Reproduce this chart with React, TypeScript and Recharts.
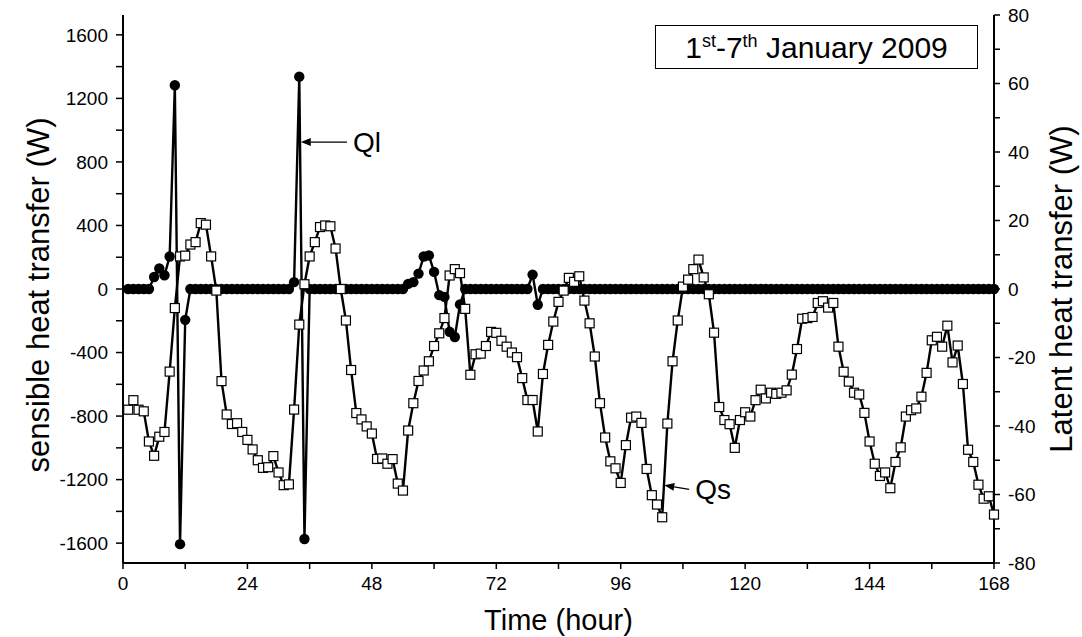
import { LineChart, Line, XAxis, YAxis, ReferenceLine } from 'recharts';

// hourly values, hour 1 .. 168
const sensibleQs = [
  -760, -700, -760, -770, -960, -1050, -930, -900, -520, -120, 205, 210,
  280, 295, 415, 405, 205, -10, -580, -790, -850, -845, -900, -950,
  -1010, -1078, -1126, -1122, -1052, -1155, -1235, -1230, -759, -224, 30, 205,
  295, 390, 400, 395, 255, 0, -198, -510, -781, -821, -865, -910,
  -1070, -1067, -1100, -1071, -1225, -1269, -891, -719, -579, -513, -455, -359,
  -279, -183, 85, 125, 100, -125, -540, -411, -407, -359, -270, -276,
  -326, -363, -400, -429, -561, -699, -699, -897, -535, -352, -205, -81,
  -10, 70, 45, 80, -73, -216, -425, -719, -935, -1085, -1129, -1221,
  -983, -810, -803, -843, -1133, -1298, -1357, -1437, -847, -455, -198, 15,
  59, 125, 185, 73, -33, -275, -743, -825, -851, -1000, -825, -776,
  -803, -700, -634, -689, -653, -660, -653, -638, -539, -378, -187, -183,
  -176, -88, -77, -117, -88, -363, -521, -583, -653, -664, -780, -960,
  -1100, -1177, -1155, -1254, -1089, -997, -803, -763, -752, -678, -528, -323,
  -301, -363, -231, -462, -356, -598, -1012, -1089, -1232, -1320, -1305, -1420,
];

const latentQl = [
  0, 0, 0, 0, 0, 3.5, 6, 4, 9.5, 59.5, -74.5, -9,
  0, 0, 0, 0, 0, 0, 0, 0, 0, 0, 0, 0,
  0, 0, 0, 0, 0, 0, 0, 0, 2, 62, -73, 0,
  0, 0, 0, 0, 0, 0, 0, 0, 0, 0, 0, 0,
  0, 0, 0, 0, 0, 0, 1.5, 2, 4.5, 9.5, 9.8, 5,
  -1.8, -2.3, -12.5, -14, -4.5, 0, 0, 0, 0, 0, 0, 0,
  0, 0, 0, 0, 0, 0, 4.2, -4.6, 0, 0, 0, 0,
  0, 0, 0, 0, 0, 0, 0, 0, 0, 0, 0, 0,
  0, 0, 0, 0, 0, 0, 0, 0, 0, 0, 0, 0,
  0, 0, 0, 0, 0, 0, 0, 0, 0, 0, 0, 0,
  0, 0, 0, 0, 0, 0, 0, 0, 0, 0, 0, 0,
  0, 0, 0, 0, 0, 0, 0, 0, 0, 0, 0, 0,
  0, 0, 0, 0, 0, 0, 0, 0, 0, 0, 0, 0,
  0, 0, 0, 0, 0, 0, 0, 0, 0, 0, 0, 0,
];

const hourTicks = [0, 12, 24, 36, 48, 60, 72, 84, 96, 108, 120, 132, 144, 156, 168];
const sensibleTicks = [
  -1600, -1400, -1200, -1000, -800, -600, -400, -200, 0,
  200, 400, 600, 800, 1000, 1200, 1400, 1600,
];
const latentTicks = [-80, -70, -60, -50, -40, -30, -20, -10, 0, 10, 20, 30, 40, 50, 60, 70, 80];

const rows = sensibleQs.map((qs, i) => ({ hour: i + 1, qs, ql: latentQl[i] }));

const FONT = 'Arial, "Liberation Sans", sans-serif';
const tickStyle = { fontSize: 19, fill: '#000', fontFamily: FONT };
const axisStroke = { stroke: '#000', strokeWidth: 2 };

const SquareDot = (props: any) => {
  const { cx, cy, index } = props;
  if (cx == null || cy == null) return <g key={`qs-${index}`} />;
  return (
    <rect key={`qs-${index}`} x={cx - 4.5} y={cy - 4.5} width={9} height={9}
      fill="#fff" stroke="#000" strokeWidth={1.2} />
  );
};

// arrow from first segment point to second, text next to the tail
const arrowShape = (text: string) => (p: any) => {
  const { x1, y1, x2, y2 } = p;
  const ang = Math.atan2(y2 - y1, x2 - x1);
  const len = 10, half = 4;
  const bx = x2 - len * Math.cos(ang), by = y2 - len * Math.sin(ang);
  const pts = `${x2},${y2} ${bx - half * Math.sin(ang)},${by + half * Math.cos(ang)} ${bx + half * Math.sin(ang)},${by - half * Math.cos(ang)}`;
  return (
    <g>
      <line x1={x1} y1={y1} x2={bx} y2={by} stroke="#000" strokeWidth={1.3} />
      <polygon points={pts} fill="#000" />
      <text x={x1 + 6} y={y1 + 10} fontSize={28} fontFamily={FONT} fill="#000">{text}</text>
    </g>
  );
};

const LeftTitle = (props: any) => {
  const vb = props.viewBox;
  const cx = vb.x + 38, cy = vb.y + vb.height / 2 + 6;
  return (
    <text x={cx} y={cy} transform={`rotate(-90, ${cx}, ${cy})`} textAnchor="middle"
      dominantBaseline="central" fontSize={31} fontFamily={FONT} fill="#000">
      sensible heat transfer (W)
    </text>
  );
};

const RightTitle = (props: any) => {
  const vb = props.viewBox;
  const cx = vb.x + 67, cy = vb.y + vb.height / 2;
  return (
    <text x={cx} y={cy} transform={`rotate(-90, ${cx}, ${cy})`} textAnchor="middle"
      dominantBaseline="central" fontSize={31} fontFamily={FONT} fill="#000">
      Latent heat transfer (W)
    </text>
  );
};

const BottomTitle = (props: any) => {
  const vb = props.viewBox;
  return (
    <text x={vb.x + vb.width / 2} y={vb.y + 67} textAnchor="middle"
      fontSize={29} fontFamily={FONT} fill="#000">
      Time (hour)
    </text>
  );
};

export default function App() {
  return (
    <div style={{ position: 'absolute', left: 0, top: 0, width: 1082, height: 637, background: '#fff', fontFamily: FONT }}>
      <LineChart width={1082} height={637} data={rows} margin={{ top: 15, right: 0, bottom: 0, left: 0 }}>
        <XAxis xAxisId="top" orientation="top" type="number" dataKey="hour" domain={[0, 168]}
          ticks={hourTicks} height={0} mirror tick={false} tickSize={5}
          axisLine={axisStroke} tickLine={{ stroke: '#000', strokeWidth: 1.5 }} />
        <XAxis xAxisId="main" type="number" dataKey="hour" domain={[0, 168]} ticks={hourTicks}
          height={74} tickSize={6} tickMargin={8} tick={tickStyle}
          tickFormatter={(v: number) => (v % 24 === 0 ? String(v) : '')}
          axisLine={axisStroke} tickLine={{ stroke: '#000', strokeWidth: 1.5 }}
          label={BottomTitle} />
        <YAxis yAxisId="left" type="number" domain={[-1725, 1725]} ticks={sensibleTicks}
          width={123} tickSize={7} tickMargin={8} tick={tickStyle} allowDataOverflow
          tickFormatter={(v: number) => (v % 400 === 0 ? String(v) : '')}
          axisLine={axisStroke} tickLine={{ stroke: '#000', strokeWidth: 1.5 }}
          label={LeftTitle} />
        <YAxis yAxisId="right" orientation="right" type="number" domain={[-80, 80]} ticks={latentTicks}
          width={88} tickSize={6} tickMargin={8} tick={tickStyle} allowDataOverflow
          tickFormatter={(v: number) => (v % 20 === 0 ? String(v) : '')}
          axisLine={axisStroke} tickLine={{ stroke: '#000', strokeWidth: 1.5 }}
          label={RightTitle} />
        <Line xAxisId="main" yAxisId="right" type="linear" dataKey="ql" stroke="#000" strokeWidth={2.4}
          dot={{ r: 5.2, fill: '#000', stroke: '#000', strokeWidth: 0 }} isAnimationActive={false} />
        <Line xAxisId="main" yAxisId="left" type="linear" dataKey="qs" stroke="#000" strokeWidth={2.4}
          dot={SquareDot} isAnimationActive={false} />
        <ReferenceLine xAxisId="main" yAxisId="left"
          segment={[{ x: 43.2, y: 925 }, { x: 34.3, y: 925 }]} shape={arrowShape('Ql')} />
        <ReferenceLine xAxisId="main" yAxisId="left"
          segment={[{ x: 109.2, y: -1262 }, { x: 104.4, y: -1235 }]} shape={arrowShape('Qs')} />
      </LineChart>
      <div style={{
        position: 'absolute', left: 655, top: 25, width: 323, height: 44, boxSizing: 'border-box',
        border: '1.5px solid #000', background: '#fff', display: 'flex', alignItems: 'center',
        justifyContent: 'center', fontSize: 30, lineHeight: 1, color: '#000',
      }}>
        <span>
          1<sup style={{ fontSize: '0.6em', verticalAlign: '0.6em' }}>st</sup>-7<sup style={{ fontSize: '0.6em', verticalAlign: '0.6em' }}>th</sup> January 2009
        </span>
      </div>
    </div>
  );
}
